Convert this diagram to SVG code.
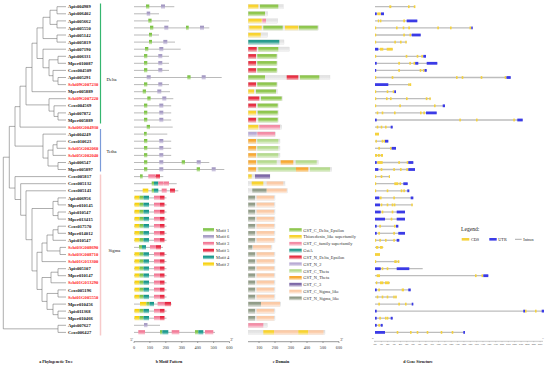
<svg xmlns="http://www.w3.org/2000/svg" width="550" height="367" viewBox="0 0 550 367">
<defs>
<linearGradient id="g1" x1="0" y1="0" x2="0" y2="1"><stop offset="0" stop-color="#74bd3c"/><stop offset=".5" stop-color="#8ccb58"/><stop offset="1" stop-color="#dff0cf"/></linearGradient>
<linearGradient id="g6" x1="0" y1="0" x2="0" y2="1"><stop offset="0" stop-color="#9c90bd"/><stop offset=".5" stop-color="#b0a6cb"/><stop offset="1" stop-color="#ebe7f3"/></linearGradient>
<linearGradient id="g3" x1="0" y1="0" x2="0" y2="1"><stop offset="0" stop-color="#f06f8e"/><stop offset=".5" stop-color="#f48aa3"/><stop offset="1" stop-color="#fcdbe3"/></linearGradient>
<linearGradient id="g5" x1="0" y1="0" x2="0" y2="1"><stop offset="0" stop-color="#e41b36"/><stop offset=".5" stop-color="#ea3a52"/><stop offset="1" stop-color="#f9b9c1"/></linearGradient>
<linearGradient id="g4" x1="0" y1="0" x2="0" y2="1"><stop offset="0" stop-color="#0f8f84"/><stop offset=".5" stop-color="#2aa297"/><stop offset="1" stop-color="#b0e0da"/></linearGradient>
<linearGradient id="g2" x1="0" y1="0" x2="0" y2="1"><stop offset="0" stop-color="#f6cc00"/><stop offset=".5" stop-color="#f9d82a"/><stop offset="1" stop-color="#fdf2b0"/></linearGradient>
<linearGradient id="sh" x1="0" y1="0" x2="0" y2="1"><stop offset="0" stop-color="#fff" stop-opacity="0"/><stop offset=".45" stop-color="#fff" stop-opacity=".05"/><stop offset="1" stop-color="#fff" stop-opacity=".7"/></linearGradient>
<g id="md"><line class="bl" x1="134" x2="169"/><rect class="m1" x="144" y="-2.2" width="3.3" height="4.4"/><rect class="m6" x="158.3" y="-2.2" width="4" height="4.4"/></g>
<g id="mt"><line class="bl" x1="134" x2="171.2"/><rect class="m1" x="144" y="-2.2" width="3.3" height="4.4"/><rect class="m6" x="159.3" y="-2.2" width="4" height="4.4"/></g>
<g id="ms"><line class="bl" x1="134" x2="166.5"/><rect class="m2" x="134.5" y="-2.2" width="5" height="4.4"/><rect class="m1" x="139.5" y="-2.2" width="4" height="4.4"/><rect class="m4" x="143.5" y="-2.2" width="5.5" height="4.4"/><rect class="m3" x="154" y="-2.2" width="6" height="4.4"/><rect class="m5" x="160" y="-2.2" width="4.5" height="4.4"/></g>
<g id="dd"><rect class="bg" x="248.3" y="-2.2" width="29" height="4.4"/><rect class="NDE" x="248.3" y="-2.2" width="7.7" height="4.4"/><rect class="DE" x="257.3" y="-2.2" width="19.4" height="4.4"/><rect class="ov" x="248.3" y="-2.2" width="29" height="4.4"/></g>
<g id="dth"><rect class="bg" x="248.3" y="-2.2" width="31.7" height="4.4"/><rect class="NT" x="248.3" y="-2.2" width="7.7" height="4.4"/><rect class="CT" x="257.3" y="-2.2" width="21" height="4.4"/><rect class="ov" x="248.3" y="-2.2" width="31.7" height="4.4"/></g>
<g id="ds"><rect class="bg" x="248.3" y="-2.2" width="26.7" height="4.4"/><rect class="NS" x="248.3" y="-2.2" width="6.7" height="4.4"/><rect class="CS" x="256.7" y="-2.2" width="17.3" height="4.4"/><rect class="ov" x="248.3" y="-2.2" width="26.7" height="4.4"/></g>
</defs>
<style>
text{font-family:"Liberation Serif","Times New Roman",serif}
.tl{font-size:4.6px;font-weight:bold;fill:#111}
.red{fill:#ff1a1a}
.br{fill:none;stroke:#6b6b6b;stroke-width:.55}
.bl{stroke:#9c9c9c;stroke-width:.7}
.m1{fill:url(#g1)}.m6{fill:url(#g6)}.m3{fill:url(#g3)}.m5{fill:url(#g5)}.m4{fill:url(#g4)}.m2{fill:url(#g2)}
.bg{fill:#e3e3e3;stroke:#cfcfcf;stroke-width:.25}
.ov{fill:url(#sh)}
.DE{fill:#8cc54a}.TR{fill:#f8d22a}.CF{fill:#f38aa4}.GA{fill:#21998b}.NDE{fill:#e62a3d}.N2{fill:#b6a8d3}.CT{fill:#b4da8c}.NT{fill:#f7a72e}.C3{fill:#7a65a5}.CS{fill:#fbc9a4}.NS{fill:#8f9a85}
.in{stroke:#bdbdbd;stroke-width:1.3}
.c{fill:#f5d23d}.u{fill:#3b3be6}
.sans{font-family:"Liberation Sans",Arial,sans-serif;fill:#333}
.lg{font-size:4.4px}
.ax{font-size:4.2px;text-anchor:middle}
.cap{font-size:4px;font-weight:bold;text-anchor:middle;fill:#111}
.axl{stroke:#333;stroke-width:.5}
.kb{font-size:2.1px;text-anchor:middle;fill:#333}
.grp{font-size:4.6px;fill:#111}
</style>
<rect width="550" height="367" fill="#fff"/>

<g id="connectors" class="br">
<path d="M66 6.7H57V13.8H66"/><path d="M66 20.9H57V27.9H66"/><path d="M57 10.25H50V24.4H57"/><path d="M66 35H57V42.1H66"/><path d="M50 17.3H43V38.55H57"/>
<path d="M66 56.3H58V63.3H66"/><path d="M66 77.5H58V84.6H66"/><path d="M66 70.4H53V81.05H58"/><path d="M58 59.8H49V75.7H53"/><path d="M66 49.2H43V67.75H49"/>
<path d="M43 27.9H37V58.5H43"/><path d="M37 43.2H32V91.7H66"/><path d="M66 112.9H58V120H66"/><path d="M66 105.8H54V116.45H58"/><path d="M66 98.7H49V111.1H54"/>
<path d="M32 67.45H26V104.9H49"/><path d="M26 86.2H20V127.1H66"/>
<path d="M66 141.2H57V148.3H66"/><path d="M57 144.75H53V155.4H66"/><path d="M66 162.5H58V169.5H66"/><path d="M53 150.1H48V166H58"/><path d="M66 134.1H43V158.05H48"/><path d="M20 106.65H15V146.1H43"/>
<path d="M66 197.9H58V204.9H66"/><path d="M66 212H58V219.1H66"/><path d="M58 201.4H53V215.55H58"/><path d="M66 226.2H58V233.3H66"/><path d="M58 229.75H53V240.3H66"/>
<path d="M66 247.4H60V254.5H66"/><path d="M53 235H47V250.95H60"/><path d="M47 243H42V261.6H66"/><path d="M66 268.7H58V275.7H66"/><path d="M58 272.2H51V282.8H66"/>
<path d="M66 289.9H58V297H66"/><path d="M66 311.1H58V318.2H66"/><path d="M66 304.1H53V314.65H58"/><path d="M58 293.45H47V309.4H53"/><path d="M51 277.5H42V301.4H47"/>
<path d="M42 252.3H37V289.45H42"/><path d="M53 208.5H32V270.9H37"/><path d="M66 190.8H26V239.7H32"/><path d="M66 183.7H20.7V215.25H26"/><path d="M66 176.6H15V199.5H20.7"/>
<path d="M15 126.4H9.3V188.05H15"/><path d="M66 325.3H58V332.4H66"/><path d="M9.3 157.2H3.3V328.85H58"/>
</g>

<g id="leaves" class="tl">
<g id="leaf01"><text x="68" y="8.3">Apis004989</text></g>
<g id="leaf02"><text x="68" y="15.4">Apis006402</text></g>
<g id="leaf03"><text x="68" y="22.5">Apis005662</text></g>
<g id="leaf04"><text x="68" y="29.5">Apis005550</text></g>
<g id="leaf05"><text x="68" y="36.6">Apis005142</text></g>
<g id="leaf06"><text x="68" y="43.7">Apis005819</text></g>
<g id="leaf07"><text x="68" y="50.8">Apis007190</text></g>
<g id="leaf08"><text x="68" y="57.9">Apis006331</text></g>
<g id="leaf09"><text x="68" y="64.9">Mper010087</text></g>
<g id="leaf10"><text x="68" y="72">Ccos004509</text></g>
<g id="leaf11"><text x="68" y="79.1">Apis005291</text></g>
<g id="leaf12"><text class="red" x="68" y="86.2">Schi09G007230</text></g>
<g id="leaf13"><text x="68" y="93.3">Mper005889</text></g>
<g id="leaf14"><text class="red" x="68" y="100.3">Schi09G007220</text></g>
<g id="leaf15"><text x="68" y="107.4">Ccos004569</text></g>
<g id="leaf16"><text x="68" y="114.5">Apis007872</text></g>
<g id="leaf17"><text x="68" y="121.6">Mper005889</text></g>
<g id="leaf18"><text class="red" x="68" y="128.7">Schi06G004930</text></g>
<g id="leaf19"><text x="68" y="135.7">Apis004249</text></g>
<g id="leaf20"><text x="68" y="142.8">Ccos010623</text></g>
<g id="leaf21"><text class="red" x="68" y="149.9">Schi05G002060</text></g>
<g id="leaf22"><text class="red" x="68" y="157">Schi05G002040</text></g>
<g id="leaf23"><text x="68" y="164.1">Apis006547</text></g>
<g id="leaf24"><text x="68" y="171.1">Mper005897</text></g>
<g id="leaf25"><text x="68" y="178.2">Ccos005817</text></g>
<g id="leaf26"><text x="68" y="185.3">Ccos005132</text></g>
<g id="leaf27"><text x="68" y="192.4">Ccos005141</text></g>
<g id="leaf28"><text x="68" y="199.5">Apis006956</text></g>
<g id="leaf29"><text x="68" y="206.5">Mper010145</text></g>
<g id="leaf30"><text x="68" y="213.6">Apis010547</text></g>
<g id="leaf31"><text x="68" y="220.7">Mper013415</text></g>
<g id="leaf32"><text x="68" y="227.8">Ccos017570</text></g>
<g id="leaf33"><text x="68" y="234.9">Mper014012</text></g>
<g id="leaf34"><text x="68" y="241.9">Apis010547</text></g>
<g id="leaf35"><text class="red" x="68" y="249">Schi03G008690</text></g>
<g id="leaf36"><text class="red" x="68" y="256.1">Schi03G008710</text></g>
<g id="leaf37"><text class="red" x="68" y="263.2">Schi01G013300</text></g>
<g id="leaf38"><text x="68" y="270.3">Apis005107</text></g>
<g id="leaf39"><text x="68" y="277.3">Mper010147</text></g>
<g id="leaf40"><text class="red" x="68" y="284.4">Schi01G013290</text></g>
<g id="leaf41"><text x="68" y="291.5">Ccos005196</text></g>
<g id="leaf42"><text class="red" x="68" y="298.6">Schi01G005550</text></g>
<g id="leaf43"><text x="68" y="305.7">Mper010456</text></g>
<g id="leaf44"><text x="68" y="312.7">Apis011368</text></g>
<g id="leaf45"><text x="68" y="319.8">Mper010466</text></g>
<g id="leaf46"><text x="68" y="326.9">Apis007627</text></g>
<g id="leaf47"><text x="68" y="334">Ccos006427</text></g>
</g>

<g id="groups">
<line x1="100.5" y1="3.5" x2="100.5" y2="123.5" stroke="#35b66f" stroke-width="1.2"/>
<line x1="100.5" y1="129" x2="100.5" y2="171.5" stroke="#7b9bd9" stroke-width="1.2"/>
<line x1="100.5" y1="174.5" x2="100.5" y2="335.5" stroke="#f7caca" stroke-width="1.5"/>
<text class="grp" x="106.5" y="80.6">Delta</text>
<text class="grp" x="106.5" y="152.6">Tetha</text>
<text class="grp" x="108.5" y="252.4">Sigma</text>
</g>

<g id="motifs">
<g transform="translate(0,6.7)"><line class="bl" x1="134" x2="174.3"/><rect class="m1" x="146" y="-2.2" width="3.3" height="4.4"/><rect class="m6" x="161" y="-2.2" width="4" height="4.4"/></g>
<g transform="translate(0,13.8)"><line class="bl" x1="134" x2="159"/><rect class="m6" x="146.7" y="-2.2" width="3.5" height="4.4"/></g>
<g transform="translate(0,20.9)"><line class="bl" x1="134" x2="169"/><rect class="m1" x="148.3" y="-2.2" width="3.3" height="4.4"/></g>
<g transform="translate(0,27.9)"><line class="bl" x1="134" x2="209.3"/><rect class="m1" x="150" y="-2.2" width="3.3" height="4.4"/><rect class="m6" x="164.3" y="-2.2" width="4" height="4.4"/><rect class="m1" x="186" y="-2.2" width="2.7" height="4.4"/><rect class="m6" x="200" y="-2.2" width="4" height="4.4"/></g>
<g transform="translate(0,35)"><line class="bl" x1="134" x2="159"/><rect class="m1" x="149" y="-2.2" width="3" height="4.4"/></g>
<g transform="translate(0,42.1)"><line class="bl" x1="134" x2="175"/><rect class="m1" x="149" y="-2.2" width="3" height="4.4"/><rect class="m6" x="163.3" y="-2.2" width="4" height="4.4"/></g>
<g transform="translate(0,49.2)"><line class="bl" x1="134" x2="180.7"/><rect class="m1" x="145" y="-2.2" width="3.3" height="4.4"/><rect class="m6" x="159.3" y="-2.2" width="4" height="4.4"/></g>
<use href="#md" y="56.3"/><use href="#md" y="63.3"/><use href="#md" y="70.4"/>
<g transform="translate(0,77.5)"><line class="bl" x1="134" x2="221.7"/><rect class="m6" x="146.7" y="-2.2" width="4" height="4.4"/><rect class="m1" x="187.3" y="-2.2" width="3.3" height="4.4"/><rect class="m6" x="201.7" y="-2.2" width="4" height="4.4"/></g>
<use href="#md" y="84.6"/>
<g transform="translate(0,91.7)"><line class="bl" x1="134" x2="170"/><rect class="m1" x="142.7" y="-2.2" width="3.3" height="4.4"/><rect class="m6" x="157.3" y="-2.2" width="4" height="4.4"/></g>
<g transform="translate(0,98.7)"><line class="bl" x1="134" x2="173.3"/><rect class="m1" x="147.3" y="-2.2" width="3.3" height="4.4"/><rect class="m6" x="162.3" y="-2.2" width="4" height="4.4"/></g>
<use href="#mt" y="105.8"/><use href="#mt" y="112.9"/><use href="#mt" y="120"/>
<g transform="translate(0,127.1)"><line class="bl" x1="134" x2="172.7"/><rect class="m1" x="146.7" y="-2.2" width="3.3" height="4.4"/></g>
<g transform="translate(0,134.1)"><line class="bl" x1="134" x2="167.3"/><rect class="m1" x="144" y="-2.2" width="2.7" height="4.4"/></g>
<use href="#mt" y="141.2"/><use href="#mt" y="148.3"/><use href="#mt" y="155.4"/>
<g transform="translate(0,162.5)"><line class="bl" x1="134" x2="209.3"/><rect class="m1" x="144" y="-2.2" width="3.3" height="4.4"/><rect class="m6" x="159.3" y="-2.2" width="4" height="4.4"/><rect class="m1" x="181.7" y="-2.2" width="3.3" height="4.4"/><rect class="m6" x="196.7" y="-2.2" width="4" height="4.4"/></g>
<g transform="translate(0,169.5)"><line class="bl" x1="134" x2="224.3"/><rect class="m1" x="144" y="-2.2" width="3.3" height="4.4"/><rect class="m6" x="159.3" y="-2.2" width="4" height="4.4"/><rect class="m1" x="196.7" y="-2.2" width="3.3" height="4.4"/><rect class="m6" x="211.7" y="-2.2" width="4" height="4.4"/></g>
<g transform="translate(0,176.6)"><line class="bl" x1="134" x2="163.3"/><rect class="m1" x="140" y="-2.2" width="2.7" height="4.4"/><rect class="m3" x="148.3" y="-2.2" width="6.7" height="4.4"/><rect class="m5" x="155.5" y="-2.2" width="4.5" height="4.4"/></g>
<g transform="translate(0,183.7)"><line class="bl" x1="134" x2="176.7"/><rect class="m1" x="151.7" y="-2.2" width="2.3" height="4.4"/><rect class="m4" x="154" y="-2.2" width="4.3" height="4.4"/><rect class="m3" x="158.3" y="-2.2" width="5" height="4.4"/><rect class="m3" x="163.5" y="-2.2" width="5.5" height="4.4"/></g>
<g transform="translate(0,190.8)"><line class="bl" x1="134" x2="178.3"/><rect class="m2" x="142.7" y="-2.2" width="5.6" height="4.4"/><rect class="m1" x="151.7" y="-2.2" width="2.3" height="4.4"/><rect class="m4" x="154" y="-2.2" width="4.3" height="4.4"/><rect class="m3" x="161.7" y="-2.2" width="5" height="4.4"/><rect class="m5" x="170" y="-2.2" width="5" height="4.4"/></g>
<use href="#ms" y="197.9"/><use href="#ms" y="204.9"/><use href="#ms" y="212"/><use href="#ms" y="219.1"/><use href="#ms" y="226.2"/><use href="#ms" y="233.3"/><use href="#ms" y="240.3"/>
<g transform="translate(0,247.4)"><line class="bl" x1="134" x2="163"/><rect class="m1" x="139" y="-2.2" width="3" height="4.4"/><rect class="m4" x="142" y="-2.2" width="4" height="4.4"/><rect class="m3" x="150" y="-2.2" width="6" height="4.4"/><rect class="m5" x="156" y="-2.2" width="5" height="4.4"/></g>
<use href="#ms" y="254.5"/><use href="#ms" y="261.6"/><use href="#ms" y="268.7"/><use href="#ms" y="275.7"/><use href="#ms" y="282.8"/><use href="#ms" y="289.9"/><use href="#ms" y="297"/>
<g transform="translate(0,304.1)"><line class="bl" x1="134" x2="171.6"/><rect class="m2" x="140" y="-2.2" width="6.4" height="4.4"/><rect class="m1" x="146.4" y="-2.2" width="3" height="4.4"/><rect class="m4" x="149.5" y="-2.2" width="4.5" height="4.4"/><rect class="m3" x="157.6" y="-2.2" width="7" height="4.4"/><rect class="m5" x="164.6" y="-2.2" width="6.4" height="4.4"/></g>
<use href="#ms" y="311.1"/><use href="#ms" y="318.2"/>
<g transform="translate(0,325.3)"><line class="bl" x1="134" x2="160"/><rect class="m6" x="144" y="-2.2" width="3.5" height="4.4"/></g>
<g transform="translate(0,332.4)"><line class="bl" x1="134" x2="215"/><rect class="m3" x="138.3" y="-2.2" width="6.7" height="4.4"/><rect class="m1" x="160" y="-2.2" width="2.3" height="4.4"/><rect class="m4" x="162.3" y="-2.2" width="6" height="4.4"/><rect class="m3" x="171.7" y="-2.2" width="7.6" height="4.4"/><rect class="m1" x="195" y="-2.2" width="3.3" height="4.4"/><rect class="m4" x="198.3" y="-2.2" width="5" height="4.4"/><rect class="m3" x="205" y="-2.2" width="8.3" height="4.4"/></g>
</g>

<g id="motif-legend" class="sans lg">
<rect class="m1" x="203" y="228.2" width="11" height="3.6"/><text x="216" y="231.5">Motif 1</text>
<rect class="m6" x="203" y="235.1" width="11" height="3.6"/><text x="216" y="238.4">Motif 6</text>
<rect class="m3" x="203" y="241.9" width="11" height="3.6"/><text x="216" y="245.2">Motif 3</text>
<rect class="m5" x="203" y="248.8" width="11" height="3.6"/><text x="216" y="252.1">Motif 5</text>
<rect class="m4" x="203" y="255.6" width="11" height="3.6"/><text x="216" y="258.9">Motif 4</text>
<rect class="m2" x="203" y="262.5" width="11" height="3.6"/><text x="216" y="265.8">Motif 2</text>
</g>

<g id="domains">
<g transform="translate(0,6.7)"><rect class="bg" x="248.3" y="-2.2" width="35" height="4.4"/><rect class="TR" x="248.3" y="-2.2" width="10" height="4.4"/><rect class="DE" x="260" y="-2.2" width="18.3" height="4.4"/><rect class="ov" x="248.3" y="-2.2" width="35" height="4.4"/></g>
<g transform="translate(0,13.8)"><rect class="bg" x="248.3" y="-2.2" width="19.4" height="4.4"/><rect class="DE" x="248.3" y="-2.2" width="16.7" height="4.4"/><rect class="ov" x="248.3" y="-2.2" width="19.4" height="4.4"/></g>
<g transform="translate(0,20.9)"><rect class="bg" x="248.3" y="-2.2" width="29.4" height="4.4"/><rect class="TR" x="248.3" y="-2.2" width="13.4" height="4.4"/><rect class="CF" x="262.3" y="-2.2" width="3.7" height="4.4"/><rect class="ov" x="248.3" y="-2.2" width="29.4" height="4.4"/></g>
<g transform="translate(0,27.9)"><rect class="bg" x="248.3" y="-2.2" width="70.2" height="4.4"/><rect class="TR" x="249.3" y="-2.2" width="12.4" height="4.4"/><rect class="DE" x="263.3" y="-2.2" width="19.4" height="4.4"/><rect class="TR" x="285" y="-2.2" width="13.3" height="4.4"/><rect class="DE" x="299" y="-2.2" width="18.7" height="4.4"/><rect class="ov" x="248.3" y="-2.2" width="70.2" height="4.4"/></g>
<g transform="translate(0,35)"><rect class="bg" x="248.3" y="-2.2" width="19.4" height="4.4"/><rect class="TR" x="248.3" y="-2.2" width="12.4" height="4.4"/><rect class="ov" x="248.3" y="-2.2" width="19.4" height="4.4"/></g>
<g transform="translate(0,42.1)"><rect class="bg" x="248.3" y="-2.2" width="35.7" height="4.4"/><rect class="GA" x="248.3" y="-2.2" width="31" height="4.4"/><rect class="ov" x="248.3" y="-2.2" width="35.7" height="4.4"/></g>
<g transform="translate(0,49.2)"><rect class="bg" x="248.3" y="-2.2" width="41" height="4.4"/><rect class="NDE" x="248.3" y="-2.2" width="8.4" height="4.4"/><rect class="DE" x="258.3" y="-2.2" width="20" height="4.4"/><rect class="ov" x="248.3" y="-2.2" width="41" height="4.4"/></g>
<use href="#dd" y="56.3"/><use href="#dd" y="63.3"/><use href="#dd" y="70.4"/>
<g transform="translate(0,77.5)"><rect class="bg" x="248.3" y="-2.2" width="81.7" height="4.4"/><rect class="DE" x="248.3" y="-2.2" width="16.7" height="4.4"/><rect class="NDE" x="286.7" y="-2.2" width="11.6" height="4.4"/><rect class="DE" x="300" y="-2.2" width="19.3" height="4.4"/><rect class="ov" x="248.3" y="-2.2" width="81.7" height="4.4"/></g>
<use href="#dd" y="84.6"/>
<g transform="translate(0,91.7)"><rect class="bg" x="248.3" y="-2.2" width="29" height="4.4"/><rect class="TR" x="248.3" y="-2.2" width="5.7" height="4.4"/><rect class="DE" x="256" y="-2.2" width="20" height="4.4"/><rect class="ov" x="248.3" y="-2.2" width="29" height="4.4"/></g>
<g transform="translate(0,98.7)"><rect class="bg" x="248.3" y="-2.2" width="34" height="4.4"/><rect class="NDE" x="248.3" y="-2.2" width="11" height="4.4"/><rect class="DE" x="261" y="-2.2" width="20.7" height="4.4"/><rect class="ov" x="248.3" y="-2.2" width="34" height="4.4"/></g>
<g transform="translate(0,105.8)"><rect class="bg" x="248.3" y="-2.2" width="30" height="4.4"/><rect class="NDE" x="248.3" y="-2.2" width="7.7" height="4.4"/><rect class="DE" x="257.7" y="-2.2" width="20" height="4.4"/><rect class="ov" x="248.3" y="-2.2" width="30" height="4.4"/></g>
<g transform="translate(0,112.9)"><rect class="bg" x="248.3" y="-2.2" width="30" height="4.4"/><rect class="TR" x="248.3" y="-2.2" width="7.7" height="4.4"/><rect class="DE" x="257.7" y="-2.2" width="20" height="4.4"/><rect class="ov" x="248.3" y="-2.2" width="30" height="4.4"/></g>
<g transform="translate(0,120)"><rect class="bg" x="248.3" y="-2.2" width="30" height="4.4"/><rect class="NDE" x="248.3" y="-2.2" width="7.7" height="4.4"/><rect class="DE" x="258.3" y="-2.2" width="19.4" height="4.4"/><rect class="ov" x="248.3" y="-2.2" width="30" height="4.4"/></g>
<g transform="translate(0,127.1)"><rect class="bg" x="248.3" y="-2.2" width="33.4" height="4.4"/><rect class="TR" x="248.3" y="-2.2" width="10" height="4.4"/><rect class="CF" x="259.3" y="-2.2" width="20.7" height="4.4"/><rect class="ov" x="248.3" y="-2.2" width="33.4" height="4.4"/></g>
<g transform="translate(0,134.1)"><rect class="bg" x="248.3" y="-2.2" width="27.4" height="4.4"/><rect class="N2" x="248.3" y="-2.2" width="8.4" height="4.4"/><rect class="CF" x="257.3" y="-2.2" width="17.7" height="4.4"/><rect class="ov" x="248.3" y="-2.2" width="27.4" height="4.4"/></g>
<use href="#dth" y="141.2"/><use href="#dth" y="148.3"/><use href="#dth" y="155.4"/>
<g transform="translate(0,162.5)"><rect class="bg" x="248.3" y="-2.2" width="70" height="4.4"/><rect class="NT" x="248.3" y="-2.2" width="7.7" height="4.4"/><rect class="CT" x="257.3" y="-2.2" width="19.4" height="4.4"/><rect class="NT" x="280.7" y="-2.2" width="12.6" height="4.4"/><rect class="CT" x="295.7" y="-2.2" width="21" height="4.4"/><rect class="ov" x="248.3" y="-2.2" width="70" height="4.4"/></g>
<g transform="translate(0,169.5)"><rect class="bg" x="248.3" y="-2.2" width="83.4" height="4.4"/><rect class="NT" x="248.3" y="-2.2" width="7.7" height="4.4"/><rect class="CT" x="258.3" y="-2.2" width="37.7" height="4.4"/><rect class="NT" x="296" y="-2.2" width="12.3" height="4.4"/><rect class="CT" x="310" y="-2.2" width="20" height="4.4"/><rect class="ov" x="248.3" y="-2.2" width="83.4" height="4.4"/></g>
<g transform="translate(0,176.6)"><rect class="bg" x="248.3" y="-2.2" width="21.7" height="4.4"/><rect class="TR" x="248.3" y="-2.2" width="3.4" height="4.4"/><rect class="C3" x="255" y="-2.2" width="15" height="4.4"/><rect class="ov" x="248.3" y="-2.2" width="21.7" height="4.4"/></g>
<g transform="translate(0,183.7)"><rect class="bg" x="248.3" y="-2.2" width="36.7" height="4.4"/><rect class="TR" x="251.7" y="-2.2" width="11.6" height="4.4"/><rect class="CS" x="266.7" y="-2.2" width="16.6" height="4.4"/><rect class="ov" x="248.3" y="-2.2" width="36.7" height="4.4"/></g>
<g transform="translate(0,190.8)"><rect class="bg" x="248.3" y="-2.2" width="39" height="4.4"/><rect class="NS" x="252.3" y="-2.2" width="14.4" height="4.4"/><rect class="CS" x="266.7" y="-2.2" width="20" height="4.4"/><rect class="ov" x="248.3" y="-2.2" width="39" height="4.4"/></g>
<use href="#ds" y="197.9"/><use href="#ds" y="204.9"/><use href="#ds" y="212"/><use href="#ds" y="219.1"/><use href="#ds" y="226.2"/><use href="#ds" y="233.3"/><use href="#ds" y="240.3"/>
<g transform="translate(0,247.4)"><rect class="bg" x="248.3" y="-2.2" width="23.7" height="4.4"/><rect class="NS" x="248.3" y="-2.2" width="4" height="4.4"/><rect class="CS" x="253" y="-2.2" width="18" height="4.4"/><rect class="ov" x="248.3" y="-2.2" width="23.7" height="4.4"/></g>
<use href="#ds" y="254.5"/><use href="#ds" y="261.6"/><use href="#ds" y="268.7"/><use href="#ds" y="275.7"/><use href="#ds" y="282.8"/><use href="#ds" y="289.9"/><use href="#ds" y="297"/>
<g transform="translate(0,304.1)"><rect class="bg" x="248.3" y="-2.2" width="32.4" height="4.4"/><rect class="NS" x="248.3" y="-2.2" width="12.7" height="4.4"/><rect class="CS" x="261" y="-2.2" width="19" height="4.4"/><rect class="ov" x="248.3" y="-2.2" width="32.4" height="4.4"/></g>
<use href="#ds" y="311.1"/><use href="#ds" y="318.2"/>
<g transform="translate(0,325.3)"><rect class="bg" x="248.3" y="-2.2" width="19" height="4.4"/><rect class="CF" x="248.3" y="-2.2" width="15" height="4.4"/><rect class="ov" x="248.3" y="-2.2" width="19" height="4.4"/></g>
<g transform="translate(0,332.4)"><rect class="bg" x="248.3" y="-2.2" width="76.7" height="4.4"/><rect class="TR" x="263.3" y="-2.2" width="10.7" height="4.4"/><rect class="CS" x="274" y="-2.2" width="24.3" height="4.4"/><rect class="TR" x="298.3" y="-2.2" width="10" height="4.4"/><rect class="CS" x="308.3" y="-2.2" width="15.2" height="4.4"/><rect class="ov" x="248.3" y="-2.2" width="76.7" height="4.4"/></g>
</g>

<g id="domain-legend" class="sans lg">
<rect class="DE" x="289.3" y="228.2" width="12.4" height="3.6"/><text x="303.3" y="231.6">GST_C_Delta_Epsilon</text>
<rect class="TR" x="289.3" y="235" width="12.4" height="3.6"/><text x="303.3" y="238.4">Thioredoxin_like superfamily</text>
<rect class="CF" x="289.3" y="241.9" width="12.4" height="3.6"/><text x="303.3" y="245.3">GST_C_family superfamily</text>
<rect class="GA" x="289.3" y="248.7" width="12.4" height="3.6"/><text x="303.3" y="252.1">GstA</text>
<rect class="NDE" x="289.3" y="255.5" width="12.4" height="3.6"/><text x="303.3" y="258.9">GST_N_Delta_Epsilon</text>
<rect class="N2" x="289.3" y="262.4" width="12.4" height="3.6"/><text x="303.3" y="265.8">GST_N_2</text>
<rect class="CT" x="289.3" y="269.2" width="12.4" height="3.6"/><text x="303.3" y="272.6">GST_C_Theta</text>
<rect class="NT" x="289.3" y="276" width="12.4" height="3.6"/><text x="303.3" y="279.4">GST_N_Theta</text>
<rect class="C3" x="289.3" y="282.8" width="12.4" height="3.6"/><text x="303.3" y="286.2">GST_C_3</text>
<rect class="CS" x="289.3" y="289.7" width="12.4" height="3.6"/><text x="303.3" y="293.1">GST_C_Sigma_like</text>
<rect class="NS" x="289.3" y="296.5" width="12.4" height="3.6"/><text x="303.3" y="299.9">GST_N_Sigma_like</text>
<rect class="ov" x="289.3" y="228.2" width="12.4" height="3.6"/><rect class="ov" x="289.3" y="235" width="12.4" height="3.6"/><rect class="ov" x="289.3" y="241.9" width="12.4" height="3.6"/><rect class="ov" x="289.3" y="248.7" width="12.4" height="3.6"/><rect class="ov" x="289.3" y="255.5" width="12.4" height="3.6"/><rect class="ov" x="289.3" y="262.4" width="12.4" height="3.6"/><rect class="ov" x="289.3" y="269.2" width="12.4" height="3.6"/><rect class="ov" x="289.3" y="276" width="12.4" height="3.6"/><rect class="ov" x="289.3" y="282.8" width="12.4" height="3.6"/><rect class="ov" x="289.3" y="289.7" width="12.4" height="3.6"/><rect class="ov" x="289.3" y="296.5" width="12.4" height="3.6"/>
</g>

<g id="genes">
<g transform="translate(0,6.7)"><line class="in" x1="375" x2="415"/><rect class="c" x="389.3" y="-1.4" width="2" height="2.8"/><rect class="c" x="408" y="-1.4" width="1.6" height="2.8"/><rect class="c" x="413.8" y="-1.4" width="1.6" height="2.8"/></g>
<g transform="translate(0,13.8)"><line class="in" x1="375" x2="384"/><rect class="u" x="375" y="-1.4" width="1.7" height="2.8"/><rect class="c" x="377.3" y="-1.4" width="3.4" height="2.8"/><rect class="u" x="381" y="-1.4" width="3" height="2.8"/></g>
<g transform="translate(0,20.9)"><line class="in" x1="375" x2="417.3"/><rect class="c" x="377.8" y="-1.4" width="1.4" height="2.8"/><rect class="c" x="380" y="-1.4" width="1.4" height="2.8"/><rect class="c" x="403.3" y="-1.4" width="1.7" height="2.8"/><rect class="u" x="406.7" y="-1.4" width="10.6" height="2.8"/></g>
<g transform="translate(0,27.9)"><line class="in" x1="375" x2="472.7"/><rect class="c" x="375" y="-1.4" width="1.2" height="2.8"/><rect class="c" x="396" y="-1.4" width="1.6" height="2.8"/><rect class="c" x="402.7" y="-1.4" width="1.6" height="2.8"/><rect class="c" x="408.3" y="-1.4" width="1.6" height="2.8"/><rect class="c" x="437.3" y="-1.4" width="1.6" height="2.8"/><rect class="c" x="450" y="-1.4" width="1.6" height="2.8"/><rect class="c" x="469.5" y="-1.4" width="1.6" height="2.8"/><rect class="u" x="471.3" y="-1.4" width="1.4" height="2.8"/></g>
<g transform="translate(0,35)"><line class="in" x1="375" x2="420.7"/><rect class="c" x="375" y="-1.4" width="1.2" height="2.8"/><rect class="c" x="403.3" y="-1.4" width="1.6" height="2.8"/><rect class="c" x="409.5" y="-1.4" width="1.6" height="2.8"/><rect class="u" x="411.7" y="-1.4" width="9" height="2.8"/></g>
<g transform="translate(0,42.1)"><line class="in" x1="375" x2="406.7"/><rect class="c" x="375" y="-1.4" width="1.2" height="2.8"/><rect class="c" x="394.3" y="-1.4" width="1.6" height="2.8"/><rect class="c" x="400" y="-1.4" width="1.6" height="2.8"/><rect class="c" x="405.3" y="-1.4" width="1.4" height="2.8"/></g>
<g transform="translate(0,49.2)"><line class="in" x1="375" x2="392.7"/><rect class="u" x="375" y="-1.4" width="3.3" height="2.8"/><rect class="c" x="380" y="-1.4" width="3.3" height="2.8"/><rect class="c" x="386.7" y="-1.4" width="6" height="2.8"/></g>
<g transform="translate(0,56.3)"><line class="in" x1="375" x2="426"/><rect class="c" x="375" y="-1.4" width="1.2" height="2.8"/><rect class="c" x="405.7" y="-1.4" width="1.6" height="2.8"/><rect class="c" x="416.7" y="-1.4" width="1.6" height="2.8"/><rect class="c" x="421.3" y="-1.4" width="1.6" height="2.8"/><rect class="u" x="423.3" y="-1.4" width="2.7" height="2.8"/></g>
<g transform="translate(0,63.3)"><line class="in" x1="375" x2="437.3"/><rect class="u" x="375" y="-1.4" width="1.7" height="2.8"/><rect class="c" x="398.3" y="-1.4" width="1.6" height="2.8"/><rect class="c" x="409.3" y="-1.4" width="1.6" height="2.8"/><rect class="c" x="413.5" y="-1.4" width="1.6" height="2.8"/><rect class="u" x="415.2" y="-1.4" width="3.1" height="2.8"/><rect class="u" x="426.7" y="-1.4" width="10.6" height="2.8"/></g>
<g transform="translate(0,70.4)"><line class="in" x1="375" x2="426.7"/><rect class="u" x="375" y="-1.4" width="1.2" height="2.8"/><rect class="c" x="398.3" y="-1.4" width="1.6" height="2.8"/><rect class="c" x="419.7" y="-1.4" width="1.6" height="2.8"/><rect class="c" x="422.8" y="-1.4" width="1.6" height="2.8"/><rect class="u" x="424.6" y="-1.4" width="2.1" height="2.8"/></g>
<g transform="translate(0,77.5)"><line class="in" x1="375" x2="510.7"/><rect class="c" x="375" y="-1.4" width="1.2" height="2.8"/><rect class="c" x="391.7" y="-1.4" width="1.6" height="2.8"/><rect class="c" x="456" y="-1.4" width="1.6" height="2.8"/><rect class="c" x="461.7" y="-1.4" width="1.6" height="2.8"/><rect class="c" x="480.7" y="-1.4" width="1.6" height="2.8"/><rect class="c" x="504.7" y="-1.4" width="1.6" height="2.8"/><rect class="u" x="506.5" y="-1.4" width="4.2" height="2.8"/></g>
<g transform="translate(0,84.6)"><line class="in" x1="375" x2="411"/><rect class="u" x="375" y="-1.4" width="13.3" height="2.8"/><rect class="c" x="408.3" y="-1.4" width="1.4" height="2.8"/><rect class="c" x="410" y="-1.4" width="1.2" height="2.8"/></g>
<g transform="translate(0,91.7)"><line class="in" x1="375" x2="396"/><rect class="c" x="375" y="-1.4" width="1.2" height="2.8"/><rect class="c" x="386.7" y="-1.4" width="1.6" height="2.8"/><rect class="c" x="392.7" y="-1.4" width="1.4" height="2.8"/><rect class="u" x="394.3" y="-1.4" width="1.7" height="2.8"/></g>
<g transform="translate(0,98.7)"><line class="in" x1="375" x2="430.7"/><rect class="c" x="375" y="-1.4" width="1.2" height="2.8"/><rect class="c" x="386" y="-1.4" width="1.6" height="2.8"/><rect class="c" x="390" y="-1.4" width="1.6" height="2.8"/><rect class="c" x="406" y="-1.4" width="1.6" height="2.8"/><rect class="c" x="425.8" y="-1.4" width="1.6" height="2.8"/><rect class="c" x="429.4" y="-1.4" width="1.3" height="2.8"/></g>
<g transform="translate(0,105.8)"><line class="in" x1="375" x2="445"/><rect class="c" x="375" y="-1.4" width="1.2" height="2.8"/><rect class="c" x="399.3" y="-1.4" width="1.6" height="2.8"/><rect class="c" x="434" y="-1.4" width="1.6" height="2.8"/><rect class="u" x="442.7" y="-1.4" width="2.3" height="2.8"/></g>
<g transform="translate(0,112.9)"><line class="in" x1="375" x2="436.7"/><rect class="c" x="376.7" y="-1.4" width="1.6" height="2.8"/><rect class="c" x="381.7" y="-1.4" width="1.6" height="2.8"/><rect class="c" x="394" y="-1.4" width="1.6" height="2.8"/><rect class="c" x="420" y="-1.4" width="1.6" height="2.8"/><rect class="c" x="423.3" y="-1.4" width="1.6" height="2.8"/><rect class="u" x="426" y="-1.4" width="10.7" height="2.8"/></g>
<g transform="translate(0,120)"><line class="in" x1="375" x2="522.7"/><rect class="u" x="375" y="-1.4" width="1.7" height="2.8"/><rect class="c" x="459.3" y="-1.4" width="1.6" height="2.8"/><rect class="c" x="476" y="-1.4" width="1.6" height="2.8"/><rect class="c" x="513.3" y="-1.4" width="1.6" height="2.8"/><rect class="u" x="517.3" y="-1.4" width="5.4" height="2.8"/></g>
<g transform="translate(0,127.1)"><line class="in" x1="375" x2="392.7"/><rect class="c" x="376.7" y="-1.4" width="1.6" height="2.8"/><rect class="c" x="380.7" y="-1.4" width="1.6" height="2.8"/><rect class="c" x="385" y="-1.4" width="1.6" height="2.8"/><rect class="u" x="390.7" y="-1.4" width="2" height="2.8"/></g>
<g transform="translate(0,134.1)"><rect class="c" x="375" y="-1.4" width="4" height="2.8"/></g>
<g transform="translate(0,141.2)"><line class="in" x1="375" x2="388.3"/><rect class="c" x="375.5" y="-1.4" width="1.4" height="2.8"/><rect class="c" x="381.7" y="-1.4" width="1.6" height="2.8"/><rect class="c" x="383.8" y="-1.4" width="1.2" height="2.8"/><rect class="u" x="385" y="-1.4" width="3.3" height="2.8"/></g>
<g transform="translate(0,148.3)"><line class="in" x1="375" x2="396"/><rect class="c" x="378.3" y="-1.4" width="1.6" height="2.8"/><rect class="c" x="390" y="-1.4" width="1.6" height="2.8"/><rect class="u" x="391.7" y="-1.4" width="4.3" height="2.8"/></g>
<g transform="translate(0,155.4)"><line class="in" x1="375" x2="383"/><rect class="c" x="375" y="-1.4" width="2" height="2.8"/><rect class="c" x="377.8" y="-1.4" width="2" height="2.8"/><rect class="c" x="380.8" y="-1.4" width="2.2" height="2.8"/></g>
<g transform="translate(0,162.5)"><line class="in" x1="375" x2="413.3"/><rect class="u" x="375" y="-1.4" width="1.7" height="2.8"/><rect class="c" x="377.3" y="-1.4" width="5.4" height="2.8"/><rect class="c" x="398.3" y="-1.4" width="1.6" height="2.8"/><rect class="c" x="406.7" y="-1.4" width="1.6" height="2.8"/><rect class="u" x="408.3" y="-1.4" width="5" height="2.8"/></g>
<g transform="translate(0,169.5)"><line class="in" x1="375" x2="415"/><rect class="u" x="375" y="-1.4" width="3.3" height="2.8"/><rect class="c" x="380.7" y="-1.4" width="1.6" height="2.8"/><rect class="c" x="393.3" y="-1.4" width="1.6" height="2.8"/><rect class="c" x="400" y="-1.4" width="1.6" height="2.8"/><rect class="c" x="406.3" y="-1.4" width="1.6" height="2.8"/><rect class="u" x="408.3" y="-1.4" width="6.7" height="2.8"/></g>
<g transform="translate(0,176.6)"><line class="in" x1="375" x2="390"/><rect class="c" x="375" y="-1.4" width="1.2" height="2.8"/><rect class="c" x="380.7" y="-1.4" width="1.6" height="2.8"/><rect class="c" x="388.8" y="-1.4" width="1.2" height="2.8"/></g>
<g transform="translate(0,183.7)"><line class="in" x1="375" x2="407.7"/><rect class="c" x="375" y="-1.4" width="1.2" height="2.8"/><rect class="c" x="394.3" y="-1.4" width="4" height="2.8"/><rect class="c" x="399.5" y="-1.4" width="1.6" height="2.8"/><rect class="u" x="403.3" y="-1.4" width="4.4" height="2.8"/></g>
<g transform="translate(0,190.8)"><line class="in" x1="375" x2="409.3"/><rect class="c" x="375" y="-1.4" width="1.2" height="2.8"/><rect class="c" x="386.7" y="-1.4" width="1.6" height="2.8"/><rect class="c" x="400.7" y="-1.4" width="1.6" height="2.8"/><rect class="c" x="403.3" y="-1.4" width="1.6" height="2.8"/><rect class="u" x="407.3" y="-1.4" width="2" height="2.8"/></g>
<g transform="translate(0,197.9)"><line class="in" x1="375" x2="413.3"/><rect class="u" x="375" y="-1.4" width="4.3" height="2.8"/><rect class="c" x="380" y="-1.4" width="1.6" height="2.8"/><rect class="c" x="393.3" y="-1.4" width="1.6" height="2.8"/><rect class="u" x="410.7" y="-1.4" width="2.6" height="2.8"/></g>
<g transform="translate(0,204.9)"><line class="in" x1="375" x2="412.7"/><rect class="u" x="375" y="-1.4" width="5" height="2.8"/><rect class="c" x="380.7" y="-1.4" width="1.6" height="2.8"/><rect class="c" x="386.7" y="-1.4" width="1.6" height="2.8"/><rect class="c" x="391.7" y="-1.4" width="1.6" height="2.8"/><rect class="c" x="393.8" y="-1.4" width="1.6" height="2.8"/><rect class="c" x="411.3" y="-1.4" width="1.4" height="2.8"/></g>
<g transform="translate(0,212)"><line class="in" x1="375" x2="405"/><rect class="u" x="375" y="-1.4" width="5.7" height="2.8"/><rect class="c" x="381.7" y="-1.4" width="1.6" height="2.8"/><rect class="c" x="391.7" y="-1.4" width="1.6" height="2.8"/><rect class="u" x="396.7" y="-1.4" width="8.3" height="2.8"/></g>
<g transform="translate(0,219.1)"><line class="in" x1="375" x2="405"/><rect class="u" x="375" y="-1.4" width="10" height="2.8"/><rect class="c" x="390.7" y="-1.4" width="1.6" height="2.8"/><rect class="u" x="396.7" y="-1.4" width="8.3" height="2.8"/></g>
<g transform="translate(0,226.2)"><line class="in" x1="375" x2="398.3"/><rect class="u" x="375" y="-1.4" width="1.7" height="2.8"/><rect class="c" x="379.3" y="-1.4" width="1.6" height="2.8"/><rect class="c" x="394" y="-1.4" width="1.6" height="2.8"/><rect class="u" x="396" y="-1.4" width="2.3" height="2.8"/></g>
<g transform="translate(0,233.3)"><line class="in" x1="375" x2="405"/><rect class="u" x="375" y="-1.4" width="1.7" height="2.8"/><rect class="c" x="378.3" y="-1.4" width="1.6" height="2.8"/><rect class="c" x="393.3" y="-1.4" width="1.6" height="2.8"/><rect class="u" x="398.3" y="-1.4" width="6.7" height="2.8"/></g>
<g transform="translate(0,240.3)"><line class="in" x1="375" x2="399.3"/><rect class="c" x="375" y="-1.4" width="1.2" height="2.8"/><rect class="c" x="379.3" y="-1.4" width="1.6" height="2.8"/><rect class="c" x="385" y="-1.4" width="1.6" height="2.8"/><rect class="c" x="393.3" y="-1.4" width="1.6" height="2.8"/><rect class="u" x="396.7" y="-1.4" width="2.6" height="2.8"/></g>
<g transform="translate(0,247.4)"><line class="in" x1="375" x2="383.3"/><rect class="c" x="376" y="-1.4" width="2.3" height="2.8"/><rect class="c" x="380" y="-1.4" width="2.7" height="2.8"/></g>
<g transform="translate(0,254.5)"><rect class="c" x="375" y="-1.4" width="5" height="2.8"/></g>
<g transform="translate(0,261.6)"><line class="in" x1="375" x2="399.3"/><rect class="c" x="375" y="-1.4" width="1.2" height="2.8"/><rect class="c" x="394.3" y="-1.4" width="2.4" height="2.8"/><rect class="c" x="397.7" y="-1.4" width="1.6" height="2.8"/></g>
<g transform="translate(0,268.7)"><line class="in" x1="375" x2="422.7"/><rect class="u" x="375" y="-1.4" width="5.7" height="2.8"/><rect class="c" x="381.7" y="-1.4" width="1.6" height="2.8"/><rect class="c" x="386.7" y="-1.4" width="1.6" height="2.8"/><rect class="u" x="396.7" y="-1.4" width="12.6" height="2.8"/></g>
<g transform="translate(0,275.7)"><line class="in" x1="375" x2="488.3"/><rect class="c" x="376.7" y="-1.4" width="3.3" height="2.8"/><rect class="c" x="475" y="-1.4" width="1.6" height="2.8"/><rect class="c" x="481.5" y="-1.4" width="1.6" height="2.8"/><rect class="u" x="483.3" y="-1.4" width="5" height="2.8"/></g>
<g transform="translate(0,282.8)"><line class="in" x1="375" x2="390"/><rect class="c" x="376" y="-1.4" width="1.3" height="2.8"/><rect class="c" x="380" y="-1.4" width="3.3" height="2.8"/><rect class="c" x="385" y="-1.4" width="4.3" height="2.8"/></g>
<g transform="translate(0,289.9)"><line class="in" x1="375" x2="410.7"/><rect class="u" x="375" y="-1.4" width="1.7" height="2.8"/><rect class="c" x="378.3" y="-1.4" width="1.6" height="2.8"/><rect class="c" x="401.7" y="-1.4" width="2.3" height="2.8"/><rect class="u" x="408.3" y="-1.4" width="2.4" height="2.8"/></g>
<g transform="translate(0,297)"><line class="in" x1="375" x2="396.7"/><rect class="c" x="376.7" y="-1.4" width="1.6" height="2.8"/><rect class="c" x="381.7" y="-1.4" width="1.6" height="2.8"/><rect class="c" x="386.7" y="-1.4" width="1.6" height="2.8"/><rect class="c" x="393.3" y="-1.4" width="1.4" height="2.8"/><rect class="c" x="395.2" y="-1.4" width="1.5" height="2.8"/></g>
<g transform="translate(0,304.1)"><line class="in" x1="375" x2="413.3"/><rect class="c" x="378.3" y="-1.4" width="1.6" height="2.8"/><rect class="c" x="398.3" y="-1.4" width="1.6" height="2.8"/><rect class="c" x="405" y="-1.4" width="1.6" height="2.8"/><rect class="u" x="411.7" y="-1.4" width="1.6" height="2.8"/></g>
<g transform="translate(0,311.1)"><line class="in" x1="375" x2="544"/><rect class="u" x="375" y="-1.4" width="1.7" height="2.8"/><rect class="u" x="523.3" y="-1.4" width="1.7" height="2.8"/><rect class="c" x="525" y="-1.4" width="1.6" height="2.8"/><rect class="c" x="535" y="-1.4" width="1.6" height="2.8"/><rect class="u" x="541.7" y="-1.4" width="2.3" height="2.8"/></g>
<g transform="translate(0,318.2)"><line class="in" x1="375" x2="392.7"/><rect class="u" x="375" y="-1.4" width="1.7" height="2.8"/><rect class="c" x="379.3" y="-1.4" width="1.6" height="2.8"/><rect class="c" x="385" y="-1.4" width="1.6" height="2.8"/><rect class="c" x="386.9" y="-1.4" width="1.4" height="2.8"/><rect class="u" x="390.7" y="-1.4" width="2" height="2.8"/></g>
<g transform="translate(0,325.3)"><line class="in" x1="375" x2="382.7"/><rect class="u" x="375" y="-1.4" width="1.7" height="2.8"/><rect class="c" x="378.3" y="-1.4" width="1.7" height="2.8"/><rect class="u" x="380.7" y="-1.4" width="2" height="2.8"/></g>
<g transform="translate(0,332.4)"><line class="in" x1="375" x2="465"/><rect class="u" x="375" y="-1.4" width="10" height="2.8"/><rect class="c" x="396.7" y="-1.4" width="1.6" height="2.8"/><rect class="c" x="410" y="-1.4" width="1.6" height="2.8"/><rect class="c" x="416.7" y="-1.4" width="1.6" height="2.8"/><rect class="c" x="426.7" y="-1.4" width="1.6" height="2.8"/><rect class="c" x="440.7" y="-1.4" width="1.6" height="2.8"/><rect class="c" x="451.7" y="-1.4" width="1.6" height="2.8"/><rect class="u" x="463.3" y="-1.4" width="1.7" height="2.8"/></g>
</g>

<g id="gene-legend">
<text x="461" y="231.2" style="font-size:5.6px;fill:#222">Legend:</text>
<rect class="c" x="461.7" y="238" width="7.6" height="2.6"/><text x="471" y="240.8" style="font-size:4.2px;fill:#222">CDS</text>
<rect class="u" x="489.3" y="238" width="7.4" height="2.6"/><text x="498.3" y="240.8" style="font-size:4.2px;fill:#222">UTR</text>
<line x1="515" y1="239.3" x2="521.7" y2="239.3" stroke="#555" stroke-width=".5"/><text x="523.3" y="240.8" style="font-size:4.2px;fill:#222">Intron</text>
</g>

<g id="axis-b">
<line class="axl" x1="134" y1="341.7" x2="229.5" y2="341.7"/>
<path class="axl" d="M134 341.7v1.2M149.9 341.7v1.2M165.8 341.7v1.2M181.8 341.7v1.2M197.7 341.7v1.2M213.6 341.7v1.2M229.5 341.7v1.2"/>
<g class="sans ax"><text x="134" y="349">0</text><text x="149.9" y="349">100</text><text x="165.8" y="349">200</text><text x="181.8" y="349">300</text><text x="197.7" y="349">400</text><text x="213.6" y="349">500</text><text x="229.5" y="349">600</text>
<text x="131.6" y="341.3" style="font-size:4px">5'</text><text x="231.6" y="340.9" style="font-size:4px">3'</text></g>
</g>
<g id="axis-c">
<line class="axl" x1="248" y1="341.7" x2="339" y2="341.7"/>
<path class="axl" d="M259 341.7v1.2M275 341.7v1.2M291 341.7v1.2M307 341.7v1.2M323 341.7v1.2M339 341.7v1.2"/>
<g class="sans ax"><text x="259.3" y="349">100</text><text x="275" y="349">200</text><text x="291" y="349">300</text><text x="307" y="349">400</text><text x="323" y="349">500</text><text x="339" y="349">600</text>
<text x="341.5" y="340.9" style="font-size:4px">3'</text></g>
</g>
<g id="axis-d">
<line x1="374" y1="341.3" x2="543" y2="341.3" stroke="#777" stroke-width=".4"/>
<path stroke="#777" stroke-width=".3" d="M375 341.3v.9M381.35 341.3v.9M387.7 341.3v.9M394.05 341.3v.9M400.4 341.3v.9M406.75 341.3v.9M413.1 341.3v.9M419.45 341.3v.9M425.8 341.3v.9M432.15 341.3v.9M438.5 341.3v.9M444.85 341.3v.9M451.2 341.3v.9M457.55 341.3v.9M463.9 341.3v.9M470.25 341.3v.9M476.6 341.3v.9M482.95 341.3v.9M489.3 341.3v.9M495.65 341.3v.9M502 341.3v.9M508.35 341.3v.9M514.7 341.3v.9M521.05 341.3v.9M527.4 341.3v.9M533.75 341.3v.9M540.1 341.3v.9"/>
<g class="sans kb"><text x="375" y="344.8">0kb</text><text x="381.35" y="344.8">1kb</text><text x="387.7" y="344.8">2kb</text><text x="394.05" y="344.8">3kb</text><text x="400.4" y="344.8">4kb</text><text x="406.75" y="344.8">5kb</text><text x="413.1" y="344.8">6kb</text><text x="419.45" y="344.8">7kb</text><text x="425.8" y="344.8">8kb</text><text x="432.15" y="344.8">9kb</text><text x="438.5" y="344.8">10kb</text><text x="444.85" y="344.8">11kb</text><text x="451.2" y="344.8">12kb</text><text x="457.55" y="344.8">13kb</text><text x="463.9" y="344.8">14kb</text><text x="470.25" y="344.8">15kb</text><text x="476.6" y="344.8">16kb</text><text x="482.95" y="344.8">17kb</text><text x="489.3" y="344.8">18kb</text><text x="495.65" y="344.8">19kb</text><text x="502" y="344.8">20kb</text><text x="508.35" y="344.8">21kb</text><text x="514.7" y="344.8">22kb</text><text x="521.05" y="344.8">23kb</text><text x="527.4" y="344.8">24kb</text><text x="533.75" y="344.8">25kb</text><text x="540.1" y="344.8">26kb</text>
<text x="372.8" y="338.5" style="font-size:2.6px">5'</text><text x="543" y="338.5" style="font-size:2.6px">3'</text></g>
</g>

<g id="captions">
<text class="cap" x="56" y="363">a Phylogenetic Tree</text>
<text class="cap" x="169" y="363">b Motif  Pattern</text>
<text class="cap" x="281" y="363">c Domain</text>
<text class="cap" x="418" y="363">d Gene Structure</text>
</g>
</svg>
